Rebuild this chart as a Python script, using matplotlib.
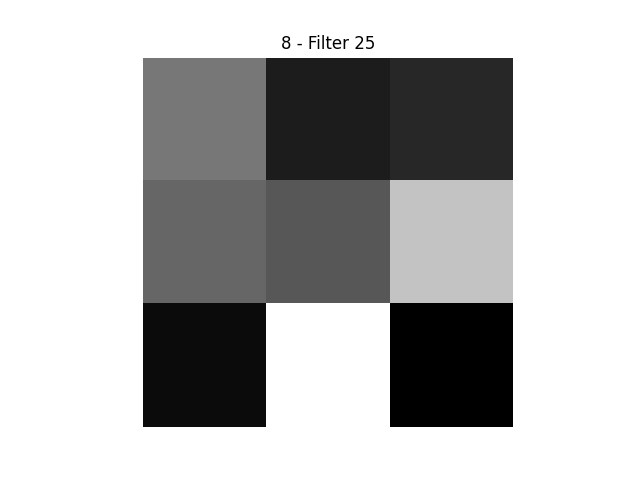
import numpy as np
import matplotlib
matplotlib.use("Agg")
import matplotlib.pyplot as plt

# filter weights (read as gray levels)
row_top = [119, 28, 39]
row_mid = [102, 87, 195]
row_bot = [11, 255, 0]

weights = np.array([row_top, row_mid, row_bot], dtype=float)

fig = plt.figure(figsize=(6.4, 4.8), dpi=100)
plt.imshow(weights, cmap="gray")
plt.title("8 - Filter 25")
plt.axis("off")
plt.savefig("out.png")
